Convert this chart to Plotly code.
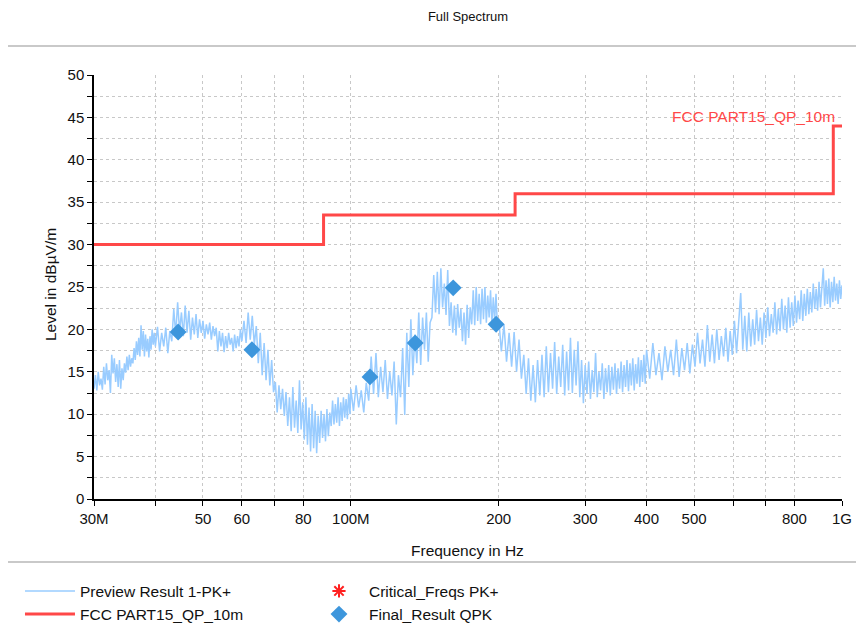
import plotly.graph_objects as go

# ---------------- data ----------------
# Preview Result 1-PK+ : frequency (MHz) and level (dBuV/m)
pk_freq_a = [30.0, 30.2, 30.4, 30.6, 30.8, 31.0, 31.2, 31.4, 31.6, 31.8, 32.0, 32.2, 32.4,
             32.6, 32.8, 33.0, 33.2, 33.4, 33.6, 33.8, 34.0, 34.2, 34.4, 34.6, 34.8, 35.0,
             35.2, 35.4, 35.6, 35.8, 36.0, 36.2, 36.4, 36.6, 36.8, 37.0, 37.2, 37.4, 37.6,
             37.8, 38.0, 38.2, 38.4, 38.6, 38.8, 39.0, 39.2, 39.4, 39.6, 39.8, 40.0]
pk_level_a = [13.0, 14.6, 12.8, 15.0, 13.4, 14.2, 12.9, 15.6, 13.5, 16.0, 14.0, 15.2, 12.5,
              17.0, 14.8, 16.6, 13.8, 15.9, 13.2, 16.4, 13.0, 15.4, 14.0, 16.0, 14.9, 16.8,
              15.2, 17.0, 15.6, 16.6, 16.0, 17.8, 16.4, 18.6, 17.0, 19.0, 16.8, 20.5, 17.6,
              19.8, 16.8, 19.4, 17.4, 18.9, 16.7, 19.2, 17.6, 20.0, 18.2, 19.6, 18.0]

pk_freq_b = [40.4, 40.8, 41.2, 41.6, 42.0, 42.4, 42.8, 43.2, 43.6, 44.0, 44.4, 44.8, 45.2,
             45.6, 46.0, 46.4, 46.8, 47.2, 47.6, 48.0, 48.4, 48.8, 49.2, 49.6, 50.0, 50.4,
             50.8, 51.2, 51.6, 52.0, 52.4, 52.8, 53.2, 53.6, 54.0, 54.4, 54.8, 55.2, 55.6,
             56.0, 56.4, 56.8, 57.2, 57.6, 58.0, 58.4, 58.8, 59.2, 59.6, 60.0]
pk_level_b = [20.3, 17.4, 19.6, 18.0, 20.2, 17.2, 19.8, 18.6, 22.4, 19.4, 23.2, 19.8, 22.0,
              19.2, 22.8, 19.6, 22.2, 18.8, 21.4, 19.4, 21.8, 19.0, 21.2, 19.6, 21.0, 18.9,
              20.6, 19.4, 20.8, 18.8, 20.4, 19.2, 20.2, 17.4, 19.8, 18.0, 19.6, 17.3, 19.2,
              17.8, 19.6, 18.2, 19.0, 17.4, 19.4, 17.8, 19.2, 18.0, 20.0, 18.6]

pk_freq_c = [60.6, 61.2, 61.8, 62.4, 63.0, 63.6, 64.2, 64.8, 65.4, 66.0, 66.6, 67.2, 67.8,
             68.4, 69.0, 69.6, 70.2, 70.8, 71.4, 72.0, 72.6, 73.2, 73.8, 74.4, 75.0, 75.6,
             76.2, 76.8, 77.4, 78.0, 78.6, 79.2, 79.8, 80.4, 81.0, 81.6, 82.2, 82.8, 83.4,
             84.0, 84.6, 85.2, 85.8, 86.4, 87.0, 87.6, 88.2, 88.8, 89.4, 90.0, 90.6, 91.2,
             91.8, 92.4, 93.0, 93.6, 94.2, 94.8, 95.4, 96.0, 96.6, 97.2, 97.8, 98.4, 99.0,
             99.6]
pk_level_c = [21.0, 18.4, 22.0, 18.8, 21.6, 18.2, 20.4, 16.0, 19.6, 14.6, 18.4, 14.0, 17.6,
              13.4, 16.4, 12.6, 13.8, 10.2, 13.4, 10.6, 13.0, 9.8, 12.6, 8.6, 12.0, 8.0,
              13.2, 8.4, 11.6, 7.8, 14.0, 8.2, 11.4, 7.0, 12.0, 6.4, 10.8, 5.6, 11.2,
              6.0, 10.4, 5.4, 9.8, 6.6, 10.4, 7.2, 10.0, 6.8, 10.6, 7.4, 10.2, 8.6,
              11.6, 8.8, 11.2, 9.0, 12.0, 8.6, 11.4, 9.2, 12.0, 9.6, 11.8, 9.4, 12.4,
              10.0]

pk_freq_d = [100.0, 101.25, 102.5, 103.75, 105.0, 106.25, 107.5, 108.75, 110.0, 111.25,
             112.5, 113.75, 115.0, 116.25, 117.5, 118.75, 120.0, 121.25, 122.5, 123.75,
             125.0, 126.25, 127.5, 128.75, 130.0, 131.25, 132.5, 133.75, 135.0, 136.25,
             137.5, 138.75, 140.0, 141.25, 142.5, 143.75, 145.0, 146.25, 147.5, 148.75,
             150.0, 151.25, 152.5, 153.75, 155.0, 156.25, 157.5, 158.75, 160.0, 161.25,
             162.5, 163.75, 165.0, 166.25, 167.5, 168.75, 170.0, 171.25, 172.5, 173.75,
             175.0, 176.25, 177.5, 178.75, 180.0, 181.25, 182.5, 183.75, 185.0, 186.25,
             187.5, 188.75, 190.0, 191.25, 192.5, 193.75, 195.0, 196.25, 197.5, 198.75]
pk_level_d = [13.0, 10.4, 13.4, 10.8, 12.8, 10.2, 13.7, 11.6, 16.8, 12.4,
              17.2, 12.0, 15.6, 12.6, 16.4, 11.8, 15.0, 12.2, 16.2, 8.8,
              14.6, 12.0, 17.8, 9.9, 19.6, 13.2, 21.2, 14.6, 19.4, 16.0,
              22.0, 15.8, 21.4, 17.6, 22.0, 16.2, 20.8, 21.4, 26.4, 22.0,
              26.8, 21.8, 27.2, 22.6, 25.4, 21.7, 27.0, 20.4, 23.2, 19.6,
              22.8, 19.3, 23.0, 20.2, 22.4, 18.6, 22.0, 18.2, 22.9, 19.0,
              22.6, 20.6, 24.6, 20.5, 25.0, 21.0, 24.2, 20.6, 24.8, 21.2,
              25.0, 20.8, 24.0, 21.4, 24.6, 20.6, 23.8, 21.0, 24.2, 20.5]

pk_freq_e = [200.0, 202.5, 205.0, 207.5, 210.0, 212.5, 215.0, 217.5, 220.0, 222.5,
             225.0, 227.5, 230.0, 232.5, 235.0, 237.5, 240.0, 242.5, 245.0, 247.5,
             250.0, 252.5, 255.0, 257.5, 260.0, 262.5, 265.0, 267.5, 270.0, 272.5,
             275.0, 277.5, 280.0, 282.5, 285.0, 287.5, 290.0, 292.5, 295.0, 297.5,
             300.0, 302.5, 305.0, 307.5, 310.0, 312.5, 315.0, 317.5, 320.0, 322.5,
             325.0, 327.5, 330.0, 332.5, 335.0, 337.5, 340.0, 342.5, 345.0, 347.5,
             350.0, 352.5, 355.0, 357.5, 360.0, 362.5, 365.0, 367.5, 370.0, 372.5,
             375.0, 377.5, 380.0, 382.5, 385.0, 387.5, 390.0, 392.5, 395.0, 397.5]
pk_level_e = [21.3, 17.4, 20.6, 16.2, 19.6, 15.6, 19.7, 15.0, 18.8, 14.2,
              17.0, 12.4, 16.6, 11.6, 15.8, 11.4, 16.4, 12.2, 17.0, 12.0,
              18.0, 12.6, 17.2, 13.0, 18.5, 12.4, 16.8, 13.2, 18.2, 12.2,
              17.4, 12.8, 19.0, 12.5, 17.6, 13.4, 18.6, 12.0, 16.4, 11.3,
              15.8, 12.4, 16.2, 11.8, 15.2, 12.6, 17.2, 12.0, 15.0, 12.8,
              16.0, 11.8, 15.4, 12.6, 15.8, 12.2, 15.6, 12.9, 16.0, 12.4,
              15.4, 13.0, 16.2, 12.6, 15.8, 13.2, 16.4, 12.7, 16.0, 13.4,
              16.6, 12.8, 15.9, 13.6, 16.7, 13.2, 16.4, 13.8, 17.0, 13.6]

pk_freq_f = [400, 406, 412, 418, 424, 430, 436, 442, 448, 454, 460, 466, 472, 478, 484,
             490, 496, 502, 508, 514, 520, 526, 532, 538, 544, 550, 556, 562, 568, 574,
             580, 586, 592, 598, 604, 610, 616, 622, 628, 634, 640, 646, 652, 658, 664,
             670, 676, 682, 688, 694, 700, 706, 712, 718, 724, 730, 736, 742, 748, 754,
             760, 766, 772, 778, 784, 790, 796, 802, 808, 814, 820, 826, 832, 838, 844,
             850, 856, 862, 868, 874, 880, 886, 892, 898, 904, 910, 916, 922, 928, 934,
             940, 946, 952, 958, 964, 970, 976, 982, 988, 994, 1000]
pk_level_f = [17.6, 14.2, 18.4, 14.6, 17.2, 14.0, 18.0, 15.0, 17.6, 14.6, 18.8, 14.4, 17.8, 15.2, 18.4,
              14.8, 18.2, 15.6, 19.6, 16.0, 18.8, 15.6, 20.5, 16.2, 19.4, 16.0, 20.0, 16.4, 19.2, 16.8,
              20.2, 16.2, 19.8, 17.0, 21.0, 17.2, 20.4, 24.3, 17.6, 21.6, 17.4, 22.0, 18.0, 21.2, 18.2,
              22.3, 18.6, 21.4, 18.2, 22.0, 19.0, 22.6, 19.2, 21.8, 19.6, 23.2, 19.4, 22.4, 19.8, 23.6,
              20.0, 22.8, 19.6, 23.8, 20.2, 23.2, 20.4, 24.0, 20.8, 23.4, 21.2, 24.6, 21.0, 24.2, 21.6,
              24.8, 21.8, 24.4, 22.0, 25.4, 22.4, 24.8, 22.2, 25.6, 22.6, 25.2, 27.2, 22.8, 25.8, 23.0,
              26.0, 22.6, 25.6, 23.2, 26.2, 23.4, 25.4, 23.0, 25.8, 23.6, 25.2]

pk_freq_mhz = pk_freq_a + pk_freq_b + pk_freq_c + pk_freq_d + pk_freq_e + pk_freq_f
pk_level = pk_level_a + pk_level_b + pk_level_c + pk_level_d + pk_level_e + pk_level_f

# FCC PART15_QP_10m limit (step line)
limit_freq_mhz = [30, 88, 216, 960, 1000]
limit_level = [30.0, 33.5, 36.0, 44.0, 44.0]

# Final_Result QPK
qpk_freq_mhz = [44.5, 62.9, 109.4, 135.2, 161.6, 197.6]
qpk_level = [19.7, 17.6, 14.4, 18.4, 24.9, 20.6]

# Critical_Freqs PK+ (none shown)
crit_freq_mhz = []
crit_level = []

x_tick_mhz = [30, 40, 50, 60, 70, 80, 100, 200, 300, 400, 500, 600, 700, 800, 1000]
x_tick_text = ["30M", "", "50", "60", "", "80", "100M", "200", "300", "400", "500", "", "", "800", "1G"]

# ---------------- figure ----------------
FONT = "Liberation Sans, Arial, sans-serif"
MHZ = 1e6
RED = "#ff4848"

fig = go.Figure()
fig.add_trace(go.Scatter(
    x=[f * MHZ for f in pk_freq_mhz], y=pk_level, mode="lines",
    line=dict(color="#99ccff", width=1.5), name="Preview Result 1-PK+"))
fig.add_trace(go.Scatter(
    x=[f * MHZ for f in crit_freq_mhz] or [None], y=crit_level or [None], mode="markers",
    marker=dict(symbol="asterisk-open", color="#ff2020", size=11, line=dict(width=2, color="#ff2020")),
    name="Critical_Freqs PK+"))
fig.add_trace(go.Scatter(
    x=[f * MHZ for f in limit_freq_mhz], y=limit_level, mode="lines",
    line=dict(color=RED, width=3, shape="hv"), name="FCC PART15_QP_10m"))
fig.add_trace(go.Scatter(
    x=[f * MHZ for f in qpk_freq_mhz], y=qpk_level, mode="markers",
    marker=dict(symbol="diamond", color="#3d96dc", size=13), name="Final_Result QPK"))

fig.add_annotation(x=9.0, y=limit_level[-1], xref="x", yref="y", text="FCC PART15_QP_10m",
                   showarrow=False, xanchor="right", yanchor="bottom", xshift=-5, yshift=-1,
                   font=dict(color=RED, size=15.5, family=FONT))
fig.add_annotation(x=0.4987, y=-0.1226, xref="paper", yref="paper", text="Frequency in Hz",
                   showarrow=False, xanchor="center", yanchor="middle",
                   font=dict(size=15.5, color="#111", family=FONT))
fig.add_annotation(x=-0.0588, y=0.5047, xref="paper", yref="paper", text="Level in dBµV/m",
                   showarrow=False, xanchor="center", yanchor="middle", textangle=-90,
                   font=dict(size=15.5, color="#111", family=FONT))

fig.add_shape(type="rect", xref="paper", yref="paper", x0=-0.1163, x1=1.04, y0=-0.1486, y1=1.0684,
              line=dict(color="#b8b8b8", width=1.5), fillcolor="rgba(0,0,0,0)", layer="below")

fig.update_xaxes(
    type="log", range=[7.4771, 9.0], tickvals=[v * MHZ for v in x_tick_mhz], ticktext=x_tick_text,
    showline=True, linecolor="black", linewidth=1.5, ticks="outside", ticklen=5, tickcolor="black",
    showgrid=True, gridcolor="#c8c8c8", griddash="dot", gridwidth=1, zeroline=False,
    tickfont=dict(size=15, color="#111", family=FONT))
fig.update_yaxes(
    range=[0, 50], dtick=5, tick0=0,
    showline=True, linecolor="black", linewidth=1.5, ticks="outside", ticklen=5, tickcolor="black",
    showgrid=True, gridcolor="#c8c8c8", griddash="dot", gridwidth=1, zeroline=False,
    minor=dict(dtick=2.5, ticks="outside", ticklen=5, tickcolor="black", showgrid=True,
               gridcolor="#c8c8c8", griddash="dot"),
    tickfont=dict(size=15, color="#111", family=FONT))

# the page has an 8px body margin, so the figure is 8px smaller on each axis
fig.update_layout(
    width=856, height=620,
    margin=dict(l=86, r=22, t=67, b=129, autoexpand=False),
    paper_bgcolor="white", plot_bgcolor="white",
    font=dict(family=FONT, color="#111"),
    title=dict(text="Full Spectrum", x=0.5, xref="paper", xanchor="center",
               y=1 - 8 / 620, yref="container", yanchor="middle",
               font=dict(size=13, color="#111", family=FONT)),
    showlegend=True,
    legend=dict(orientation="h", xref="container", x=0.0140, xanchor="left",
                yref="container", y=0.0865, yanchor="top",
                entrywidth=224, entrywidthmode="pixels", itemwidth=50,
                font=dict(size=15.5, color="#111", family=FONT), tracegroupgap=0,
                bgcolor="rgba(0,0,0,0)"),
)

fig.write_html("out.html")
